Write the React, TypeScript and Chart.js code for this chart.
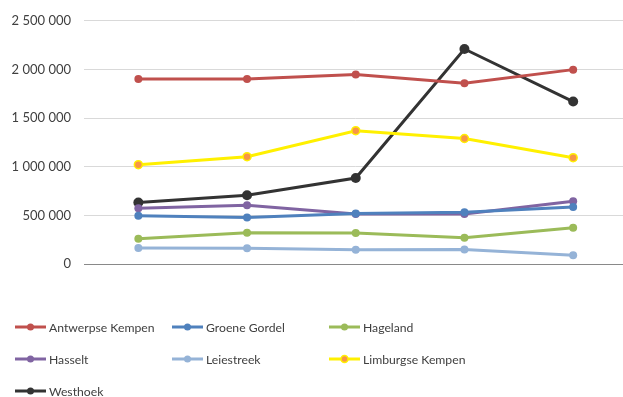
import React, { useEffect, useRef } from "react";
import { Chart, registerables } from "chart.js";

Chart.register(...registerables);

const categories = ["1", "2", "3", "4", "5"];
const seriesNames = [
  "Antwerpse Kempen",
  "Groene Gordel",
  "Hageland",
  "Hasselt",
  "Leiestreek",
  "Limburgse Kempen",
  "Westhoek",
];
const antwerpseKempen = [1903000, 1903000, 1947000, 1858000, 1998000];
const groeneGordel = [495000, 478000, 518000, 533000, 587000];
const hageland = [260000, 321000, 318000, 270000, 372000];
const hasselt = [574000, 604000, 515000, 515000, 645000];
const leiestreek = [164000, 161000, 147000, 150000, 89000];
const limburgseKempen = [1021000, 1103000, 1370000, 1290000, 1093000];
const westhoek = [632000, 707000, 884000, 2210000, 1670000];

const seriesValues = [
  antwerpseKempen,
  groeneGordel,
  hageland,
  hasselt,
  leiestreek,
  limburgseKempen,
  westhoek,
];
const lineColors = ["#C0504D", "#4F81BD", "#9BBB59", "#8064A2", "#95B3D7", "#FFF000", "#333333"];
const pointColors = ["#C0504D", "#4F81BD", "#9BBB59", "#8064A2", "#95B3D7", "#F79646", "#333333"];

const FONT = "Lato, 'Open Sans', sans-serif";
const CANVAS_W = 633;

function fmt(v: number): string {
  return String(Math.round(v)).replace(/\B(?=(\d{3})+(?!\d))/g, " ");
}

export default function App() {
  const ref = useRef<HTMLCanvasElement | null>(null);

  useEffect(() => {
    if (!ref.current) return;
    const datasets = seriesNames.map((name, i) => {
      const isW = i === 6;
      const isL = i === 5;
      return {
        label: name,
        data: seriesValues[i],
        borderColor: lineColors[i],
        backgroundColor: pointColors[i],
        pointBackgroundColor: pointColors[i],
        pointBorderColor: isL ? "#FFF000" : pointColors[i],
        pointBorderWidth: isL ? 1.5 : 0,
        pointRadius: isW ? 5 : 4,
        borderWidth: 3,
        tension: 0,
      };
    });
    const chart = new Chart(ref.current, {
      type: "line",
      data: { labels: categories, datasets },
      options: {
        animation: false,
        responsive: false,
        maintainAspectRatio: false,
        layout: { padding: { top: 20, bottom: 133, left: 0, right: 0 } },
        plugins: { legend: { display: false }, tooltip: { enabled: false } },
        scales: {
          x: {
            offset: true,
            ticks: { display: false },
            grid: { display: false, drawTicks: false },
            border: { display: true, color: "#898989", width: 1 },
          },
          y: {
            min: 0,
            max: 2500000,
            ticks: {
              stepSize: 500000,
              padding: 13,
              color: "#404040",
              font: { family: FONT, size: 13 },
              callback: (v: any) => fmt(Number(v)),
            },
            grid: { color: "#D9D9D9", lineWidth: 1, drawTicks: false },
            border: { display: false },
            afterFit: (scale: any) => {
              scale.width = 84;
            },
          },
        },
      },
    });
    return () => chart.destroy();
  }, []);

  const cols = [15, 172, 329];
  const rows = [327, 359, 391];

  return (
    <div
      style={{
        position: "absolute",
        left: 0,
        top: 0,
        width: 623,
        height: 397,
        overflow: "hidden",
        background: "#fff",
      }}
    >
      <div style={{ position: "absolute", left: 0, top: 0, width: CANVAS_W, height: 397 }}>
        <canvas ref={ref} width={CANVAS_W} height={397} style={{ display: "block", width: CANVAS_W, height: 397 }} />
      </div>
      {seriesNames.map((name, i) => {
        const x = cols[i % 3];
        const y = rows[Math.floor(i / 3)];
        return (
          <div key={name} style={{ position: "absolute", left: x, top: y - 10, height: 20, display: "flex", alignItems: "center" }}>
            <svg width={32} height={20} style={{ display: "block" }}>
              <line x1={0} y1={10} x2={31} y2={10} stroke={lineColors[i]} strokeWidth={3} />
              <circle cx={15.5} cy={10} r={3.5} fill={pointColors[i]} stroke={i === 5 ? "#FFF000" : pointColors[i]} strokeWidth={i === 5 ? 1.5 : 0} />
            </svg>
            <span style={{ marginLeft: 2, fontFamily: FONT, fontSize: 12.2, color: "#404040", whiteSpace: "nowrap" }}>{name}</span>
          </div>
        );
      })}
    </div>
  );
}
